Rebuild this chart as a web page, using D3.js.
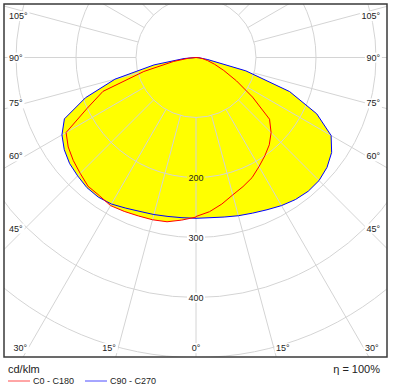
<!DOCTYPE html>
<html>
<head>
<meta charset="utf-8">
<script src="https://cdn.jsdelivr.net/npm/d3@7"></script>
<style>
body{margin:0;background:#fff;}
text{font-family:"Liberation Sans",Arial,sans-serif;fill:#222;}
</style>
</head>
<body>
<svg id="chart" width="394" height="387"></svg>
<script>
// vertical angles (gamma, 0 = straight down), 5 degree steps
var gammas = [0,5,10,15,20,25,30,35,40,45,50,55,60,65,70,75,80,85,90];
// luminous intensity in cd/klm
var c0   = [265,258,248,237,229,221,210,200,190,177,160,115,78,51,33,20,12,5,0];
var c180 = [266,272,278,280,281,283,285,281,280,273,267,260,250,200,165,90,38,12,0];
var c90  = [268,268,270,273,276,280,285,289,291,290,285,276,260,222,166,86,20,5,0];
var c270 = [268,268,269,271,273,277,282,284,283,279,275,268,258,242,196,140,71,20,0];

var ringValues = [100,200,300,400,500];
var ringLabels = [200,300,400];
var spokeAngles = d3.range(0,360,15);
var angleLabels = [-105,-90,-75,-60,-45,-30,-15,0,15,30,45,60,75,90,105];
var legendNames = ["C0 - C180","C90 - C270"];
var legendColors = ["#ff0000","#0000ff"];
var unitText = "cd/klm";
var effText = "\u03b7 = 100%";

var W = 394, H = 387;
var frame = {x:4, y:4, w:383, h:353};
var cx = 196, cy = 57.5;
var r = d3.scaleLinear().domain([0,500]).range([0,300]);
var rad = Math.PI/180;

var svg = d3.select("#chart");
var defs = svg.append("defs");

defs.append("clipPath").attr("id","frameClip")
	.append("rect")
	.attr("x",frame.x).attr("y",frame.y)
	.attr("width",frame.w).attr("height",frame.h);

var mask = defs.append("mask").attr("id","gridMask")
	.attr("maskUnits","userSpaceOnUse")
	.attr("x",0).attr("y",0).attr("width",W).attr("height",H);
mask.append("rect").attr("width",W).attr("height",H).attr("fill","#fff");

var plot = svg.append("g").attr("clip-path","url(#frameClip)");
var fillG = plot.append("g").attr("transform","translate("+cx+","+cy+")");
var gridG = plot.append("g").attr("mask","url(#gridMask)");
var gridIn = gridG.append("g").attr("transform","translate("+cx+","+cy+")");
var curveG = plot.append("g").attr("transform","translate("+cx+","+cy+")");
var labelG = svg.append("g");

//Build a closed polygon from the left and right half planes
function halfPlanes(left, right){
	var pts = [];
	for (var i = gammas.length - 1; i >= 0; i--) pts.push([Math.PI + gammas[i]*rad, left[i]]);
	for (var j = 0; j < gammas.length; j++) pts.push([Math.PI - gammas[j]*rad, right[j]]);
	return pts;
}
var radial = d3.lineRadial()
	.angle(function(d){ return d[0]; })
	.radius(function(d){ return r(d[1]); })
	.curve(d3.curveLinearClosed);

var curves = [
	{pts: halfPlanes(c270, c90), color: legendColors[1]},
	{pts: halfPlanes(c180, c0), color: legendColors[0]}
];

//Yellow fill (union of both)
fillG.selectAll("path.fill").data(curves).enter().append("path")
	.attr("class","fill")
	.attr("d",function(d){ return radial(d.pts); })
	.attr("fill","#ffff00")
	.attr("stroke","none");

//Grid rings
gridIn.selectAll("circle").data(ringValues).enter().append("circle")
	.attr("r",function(d){ return r(d); })
	.attr("fill","none")
	.attr("stroke","#d4d4d4")
	.attr("stroke-width",1);

//Grid spokes
gridIn.selectAll("line").data(spokeAngles).enter().append("line")
	.attr("x1",function(a){ return r(100)*Math.sin(a*rad); })
	.attr("y1",function(a){ return r(100)*Math.cos(a*rad); })
	.attr("x2",function(a){ return r(1000)*Math.sin(a*rad); })
	.attr("y2",function(a){ return r(1000)*Math.cos(a*rad); })
	.attr("stroke","#d4d4d4")
	.attr("stroke-width",1);

//Curves
curveG.selectAll("path.curve").data(curves).enter().append("path")
	.attr("class","curve")
	.attr("d",function(d){ return radial(d.pts); })
	.attr("fill","none")
	.attr("stroke",function(d){ return d.color; })
	.attr("stroke-width",1)
	.attr("stroke-linejoin","round");

//Ring labels
var labelNodes = [];
ringLabels.forEach(function(v){
	var t = labelG.append("text")
		.attr("x",cx).attr("y",cy + r(v))
		.attr("dy","0.35em")
		.attr("text-anchor","middle")
		.attr("font-size",9)
		.text(v);
	labelNodes.push(t.node());
});

//Angle labels
angleLabels.forEach(function(a){
	var abs = Math.abs(a), x, y, anchor;
	if (abs >= 45){
		y = cy + 171/Math.tan(abs*rad);
		if (abs === 90) y = cy;
		y = Math.max(y, 16);
		x = a < 0 ? 9 : 380;
		anchor = a < 0 ? "start" : "end";
	}else{
		y = 348;
		var dx = (345 - cy)*Math.tan(abs*rad);
		if (a < 0){ x = cx - dx - 3; anchor = "end"; }
		else if (a > 0){ x = cx + dx + 3; anchor = "start"; }
		else { x = cx; anchor = "middle"; }
	}
	var t = labelG.append("text")
		.attr("x",x).attr("y",y)
		.attr("dy","0.35em")
		.attr("text-anchor",anchor)
		.attr("font-size",9)
		.text(abs + "\u00b0");
	labelNodes.push(t.node());
});

//Knock the grid out behind the labels
labelNodes.forEach(function(n){
	var b = n.getBBox();
	mask.append("rect")
		.attr("x",b.x - 1.5).attr("y",b.y)
		.attr("width",b.width + 3).attr("height",b.height)
		.attr("fill","#000");
});

//Frame
svg.append("rect")
	.attr("x",frame.x).attr("y",frame.y)
	.attr("width",frame.w).attr("height",frame.h)
	.attr("fill","none")
	.attr("stroke","#3a3a3a")
	.attr("stroke-width",1.5);

//Footer
svg.append("text").attr("x",8).attr("y",373).attr("font-size",11).text(unitText);
svg.append("text").attr("x",380).attr("y",373).attr("font-size",11)
	.attr("text-anchor","end").text(effText);

legendNames.forEach(function(name, i){
	var x0 = 8 + i*77;
	svg.append("line")
		.attr("x1",x0).attr("x2",x0 + 22)
		.attr("y1",381).attr("y2",381)
		.attr("stroke",legendColors[i])
		.attr("stroke-opacity",0.7)
		.attr("stroke-width",1);
	svg.append("text")
		.attr("x",x0 + 25).attr("y",384)
		.attr("font-size",9)
		.text(name);
});
</script>
</body>
</html>
